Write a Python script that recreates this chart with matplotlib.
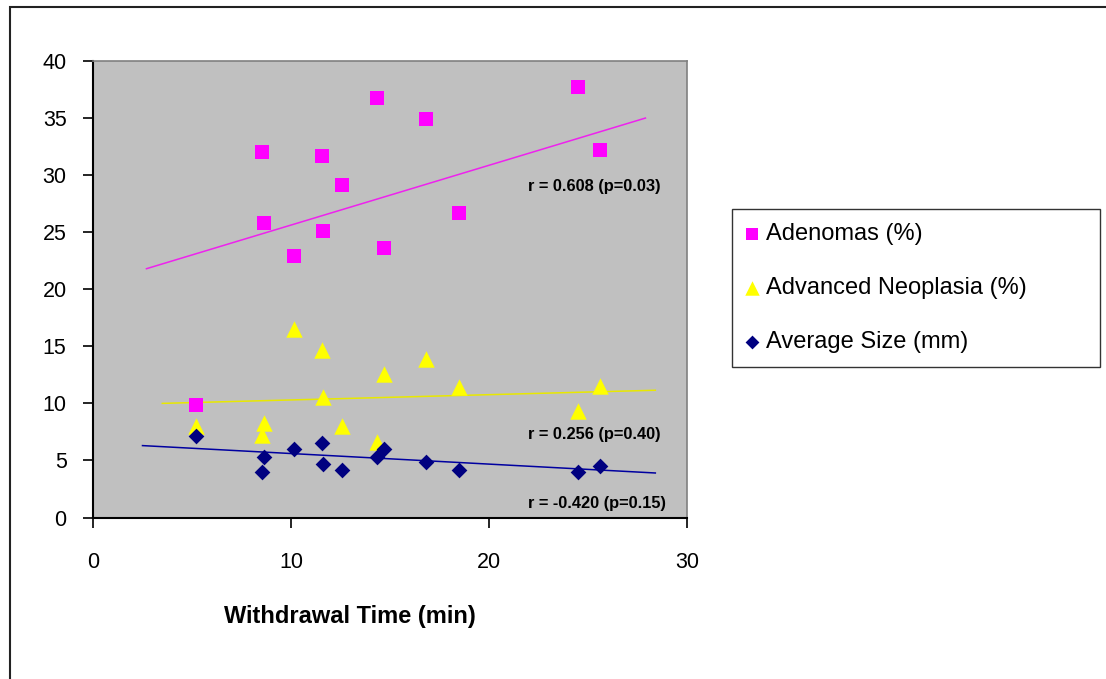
import matplotlib
matplotlib.use('Agg')
import matplotlib.pyplot as plt
from matplotlib.patches import Rectangle

plt.rcParams['font.family'] = ['Liberation Sans', 'DejaVu Sans']

# withdrawal time (min) per endoscopist
withdrawal_time = [5.2, 8.55, 8.65, 10.15, 11.55, 11.6, 12.6, 14.35, 14.7, 16.8, 18.5, 24.5, 25.6]
adenomas = [9.9, 32.0, 25.8, 22.9, 31.7, 25.1, 29.1, 36.8, 23.6, 34.9, 26.7, 37.7, 32.2]
adv_neoplasia = [8.0, 7.2, 8.3, 16.5, 14.7, 10.6, 8.0, 6.6, 12.6, 13.9, 11.4, 9.3, 11.5]
avg_size = [7.1, 4.0, 5.3, 6.0, 6.5, 4.7, 4.2, 5.3, 6.0, 4.9, 4.2, 4.0, 4.5]

# trend lines as drawn in the original
adenomas_trend_x = [2.7, 27.9]
adenomas_trend_y = [21.8, 35.0]
neoplasia_trend_x = [3.5, 28.4]
neoplasia_trend_y = [10.0, 11.15]
size_trend_x = [2.5, 28.4]
size_trend_y = [6.3, 3.9]

labels = ['Adenomas (%)', 'Advanced Neoplasia (%)', 'Average Size (mm)']
notes = ['r = 0.608 (p=0.03)', 'r = 0.256 (p=0.40)', 'r = -0.420 (p=0.15)']

pink = '#FF00FF'
yellow = '#FFFF00'
navy = '#000080'

fig = plt.figure(figsize=(11.06, 6.79), dpi=100)
fig.patches.append(Rectangle((10 / 1106, -0.1), 1.2, 1.1 - 7 / 679, transform=fig.transFigure,
                             fill=False, edgecolor='#222222', linewidth=1.5))

ax = fig.add_axes([93 / 1106, 1 - 517.5 / 679, 594 / 1106, 456.5 / 679])
ax.set_facecolor('#C0C0C0')

ax.plot(adenomas_trend_x, adenomas_trend_y, color='#EE22EE', lw=1.1, zorder=2)
ax.plot(neoplasia_trend_x, neoplasia_trend_y, color='#E8E800', lw=1.1, zorder=2)
ax.plot(size_trend_x, size_trend_y, color='#0000A0', lw=1.1, zorder=2)

h1 = ax.scatter(withdrawal_time, adenomas, marker='s', s=90, color=pink, linewidths=0, zorder=3)
h2 = ax.scatter(withdrawal_time, adv_neoplasia, marker='^', s=140, color=yellow, linewidths=0, zorder=3)
h3 = ax.scatter(withdrawal_time, avg_size, marker='D', s=64, color=navy, linewidths=0, zorder=4)

ax.text(28.69, 29.0, notes[0], ha='right', va='center', fontsize=11.8, fontweight='bold')
ax.text(28.69, 7.23, notes[1], ha='right', va='center', fontsize=11.8, fontweight='bold')
ax.text(28.93, 1.24, notes[2], ha='right', va='center', fontsize=11.8, fontweight='bold')

ax.set_xlim(0, 30)
ax.set_ylim(0, 40)
ax.set_xticks([0, 10, 20, 30])
ax.set_yticks(range(0, 41, 5))
ax.tick_params(axis='both', direction='out', length=7, width=1.2, labelsize=15.5, color='black')
ax.tick_params(axis='x', pad=18)
ax.tick_params(axis='y', pad=12)

for side in ['left', 'bottom']:
    ax.spines[side].set_color('black')
    ax.spines[side].set_linewidth(1.5)
for side in ['top', 'right']:
    ax.spines[side].set_color('#808080')
    ax.spines[side].set_linewidth(1.2)

fig.text(350 / 1106, 1 - 617 / 679, 'Withdrawal Time (min)', ha='center', va='center',
         fontsize=17, fontweight='bold')

leg = fig.legend([h1, h2, h3], labels, loc='upper left', mode='expand',
                 bbox_to_anchor=(732 / 1106, 1 - 368 / 679, 368 / 1106, 159 / 679),
                 bbox_transform=fig.transFigure,
                 fontsize=17, frameon=True, fancybox=False, markerscale=0.88,
                 handlelength=0.5, handletextpad=0.35, labelspacing=1.35, borderpad=0.6,
                 borderaxespad=0)
leg.get_frame().set_edgecolor('black')
leg.get_frame().set_linewidth(1.0)

fig.savefig('out.png', dpi=100)
